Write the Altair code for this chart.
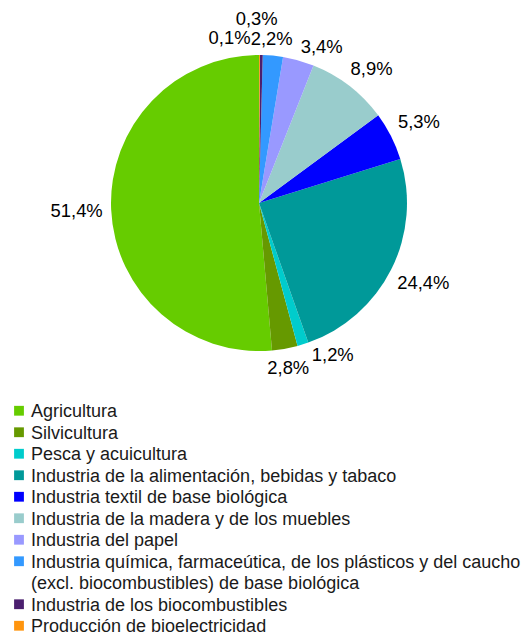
import altair as alt
import pandas as pd

categorias = [
    "Agricultura",
    "Silvicultura",
    "Pesca y acuicultura",
    "Industria de la alimentación, bebidas y tabaco",
    "Industria textil de base biológica",
    "Industria de la madera y de los muebles",
    "Industria del papel",
    "Industria química, farmaceútica, de los plásticos y del caucho\n(excl. biocombustibles) de base biológica",
    "Industria de los biocombustibles",
    "Producción de bioelectricidad",
]
valores = [51.4, 2.8, 1.2, 24.4, 5.3, 8.9, 3.4, 2.2, 0.3, 0.1]
colores = ["#66cc00", "#669900", "#00cccc", "#009999", "#0000ff",
           "#99cccc", "#9999ff", "#3399ff", "#4b1f6f", "#ff950e"]
etiquetas = [f"{v:.1f}".replace(".", ",") + "%" for v in valores]

df = pd.DataFrame({
    "cat": categorias,
    "valor": valores,
    "etiqueta": etiquetas,
    "orden": list(range(len(categorias))),
})

FONT = "Liberation Sans"
FS_PIE = 18.4
FS_LEG = 18
R = 148
n_lineas = sum(c.count("\n") + 1 for c in categorias)

color = alt.Color("cat:N", scale=alt.Scale(domain=categorias, range=colores), legend=None)

base = alt.Chart(df)

arcs = base.mark_arc(outerRadius=R).encode(
    theta=alt.Theta("valor:Q", stack=True),
    color=color,
    order=alt.Order("orden:Q", sort="descending"),
)

lab = base.transform_joinaggregate(total="sum(valor)").transform_window(
    cum="sum(valor)", sort=[alt.SortField("orden", order="descending")], frame=[None, 0]
).transform_calculate(
    ang="2*PI*(datum.cum - datum.valor/2)/datum.total",
).transform_calculate(
    r=f"{R + 9} + min(length(datum.etiqueta)*5.1/abs(sin(datum.ang)), 10/abs(cos(datum.ang)))"
)

# nudges applied by the original chart to avoid label collisions
nudges = {
    "Producción de bioelectricidad": (-30, 2),
    "Industria de los biocombustibles": (-5, -17),
    "Industria química, farmaceútica, de los plásticos y del caucho\n(excl. biocombustibles) de base biológica": (-3, 2),
    "Industria del papel": (18, 5),
    "Industria de la madera y de los muebles": (9, 0),
    "Industria de la alimentación, bebidas y tabaco": (4, 0),
    "Pesca y acuicultura": (24, -8),
}

def text_layer(src, dx=0, dy=0):
    return src.mark_text(font=FONT, fontSize=FS_PIE, color="#000000", align="center",
                         baseline="middle", dx=dx, dy=dy).encode(
        theta=alt.Theta("ang:Q", scale=None),
        radius=alt.Radius("r:Q", scale=None),
        text="etiqueta:N",
    )

layers = [arcs]
excl = " && ".join([f"datum.orden != {categorias.index(k)}" for k in nudges])
layers.append(text_layer(lab.transform_filter(excl)))
for k, (dx, dy) in nudges.items():
    layers.append(text_layer(lab.transform_filter(f"datum.orden == {categorias.index(k)}"), dx, dy))

pie = alt.layer(*layers).resolve_scale(theta="independent", radius="independent").properties(
    width=502, height=390
)

leg_base = alt.Chart(df).transform_calculate(
    nl="length(split(datum.cat, '\\n'))"
).transform_window(
    cl="sum(nl)", sort=[alt.SortField("orden")], frame=[None, 0]
).transform_calculate(linea="datum.cl - datum.nl")

ysc = alt.Y("linea:Q", scale=alt.Scale(domain=[-0.5, n_lineas - 0.5], reverse=True), axis=None)

leg_sq = leg_base.mark_square(size=96, opacity=1).encode(
    x=alt.value(11), y=ysc, color=color
)
leg_tx = leg_base.mark_text(font=FONT, fontSize=FS_LEG, color="#1a1a1a", align="left",
                            baseline="alphabetic", dy=6.5, lineBreak="\n",
                            lineHeight=21.5).encode(
    x=alt.value(23), y=ysc, text="cat:N"
)
legend = alt.layer(leg_sq, leg_tx).properties(width=502, height=21.5 * n_lineas)

chart = alt.vconcat(pie, legend, spacing=2).properties(padding=0).configure_view(stroke=None)

chart.save("out.html", embed_options={"renderer": "svg", "actions": False})
